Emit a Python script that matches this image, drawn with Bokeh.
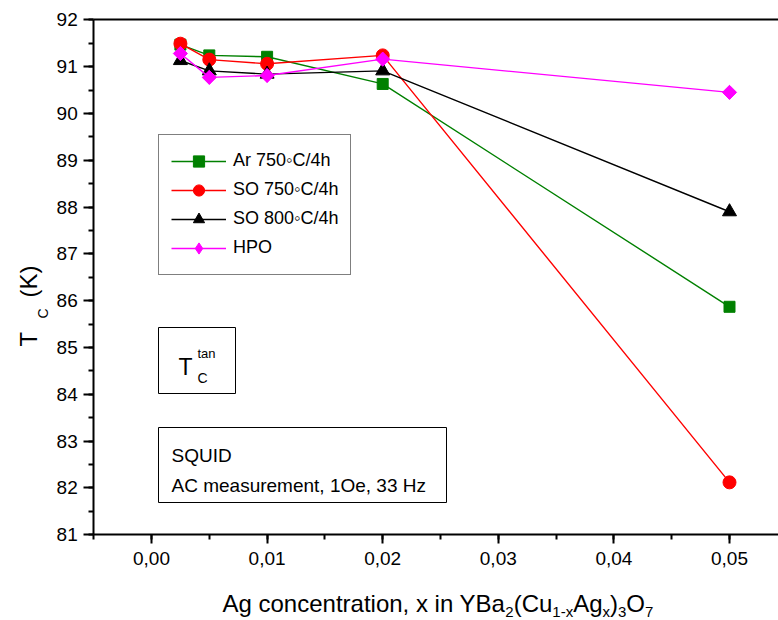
import math
import numpy as np
from bokeh.plotting import figure
from bokeh.models import (Range1d, FixedTicker, Legend, LegendItem, Label,
                          BoxAnnotation, LinearAxis)
from bokeh.embed import file_html
from bokeh.resources import INLINE

# ---------------- data ----------------
x_conc = [0.0025, 0.005, 0.01, 0.02, 0.05]
tc_ar750 = [91.47, 91.24, 91.21, 90.63, 85.87]
tc_so750 = [91.49, 91.15, 91.06, 91.24, 82.12]
tc_so800 = [91.13, 90.91, 90.84, 90.91, 87.90]
tc_hpo = [91.28, 90.77, 90.81, 91.16, 90.45]

series_names = ["Ar 750\u25e6C/4h", "SO 750\u25e6C/4h", "SO 800\u25e6C/4h", "HPO"]
series_values = [tc_ar750, tc_so750, tc_so800, tc_hpo]

x_ticks = [0.0, 0.01, 0.02, 0.03, 0.04, 0.05]
x_tick_labels = ["0,00", "0,01", "0,02", "0,03", "0,04", "0,05"]
y_ticks = [81, 82, 83, 84, 85, 86, 87, 88, 89, 90, 91, 92]
y_tick_labels = ["81", "82", "83", "84", "85", "86", "87", "88", "89", "90", "91", "92"]

# ---------------- layout ----------------
W, H = 778, 620
FONT = "Liberation Sans"

# plot box in canvas pixels: x=-0.005 at px 93.3, x=0 at px 151, 0.01 -> 115.6 px
X0_PX, X_PX_PER_UNIT = 151.0, 11560.0
Y92_PX, Y81_PX = 19.3, 534.3
Y_PX_PER_UNIT = (Y81_PX - Y92_PX) / 11.0
X_START = -X0_PX / X_PX_PER_UNIT
X_END = (W - X0_PX) / X_PX_PER_UNIT
Y_END = 92 + Y92_PX / Y_PX_PER_UNIT
Y_START = 92 - (H - Y92_PX) / Y_PX_PER_UNIT
X_AX_LO = -0.005

p = figure(width=W, height=H, output_backend="svg", toolbar_location=None,
           x_range=Range1d(X_START, X_END), y_range=Range1d(Y_START, Y_END),
           min_border_left=0, min_border_right=0, min_border_top=0,
           min_border_bottom=0, background_fill_color="white",
           border_fill_color="white")
p.outline_line_color = None
p.xgrid.visible = False
p.ygrid.visible = False

p.xaxis.fixed_location = 81
p.yaxis.fixed_location = X_AX_LO
p.xaxis.bounds = (X_AX_LO, X_END)
p.yaxis.bounds = (81, 92)

p.xaxis.ticker = FixedTicker(ticks=x_ticks,
                             minor_ticks=list(np.arange(-0.005, 0.0545, 0.005)))
p.yaxis.ticker = FixedTicker(ticks=y_ticks,
                             minor_ticks=list(np.arange(81, 92.01, 0.5)))
p.xaxis.major_label_overrides = {t: l for t, l in zip(x_ticks, x_tick_labels)}
p.yaxis.major_label_overrides = {t: l for t, l in zip(y_ticks, y_tick_labels)}

for ax in (p.xaxis[0], p.yaxis[0]):
    ax.axis_line_width = 2
    ax.axis_line_color = "black"
    ax.major_tick_line_width = 2
    ax.minor_tick_line_width = 2
    ax.major_tick_line_color = "black"
    ax.minor_tick_line_color = "black"
    ax.major_tick_in = 0
    ax.minor_tick_in = 0
    ax.minor_tick_out = 5
    ax.major_label_text_font = FONT
    ax.major_label_text_font_size = "19px"
    ax.major_label_text_color = "black"
p.xaxis.major_tick_out = 9
p.yaxis.major_tick_out = 10
p.xaxis.major_label_standoff = 8
p.yaxis.major_label_standoff = 6

top = LinearAxis(fixed_location=92, bounds=(X_AX_LO, X_END),
                 ticker=FixedTicker(ticks=[], minor_ticks=[]),
                 axis_line_width=2, axis_line_color="black",
                 major_tick_line_color=None, minor_tick_line_color=None,
                 major_label_text_font_size="0px")
p.add_layout(top, "above")

# ---------------- series ----------------
colors = ["#008000", "#ff0000", "#000000", "#ff00ff"]
markers = ["square", "circle", "triangle", "square"]
sizes = [11, 13, 14, 10]
angles = [0, 0, 0, math.pi / 4]

items = []
for name, vals, c, m, s, a in zip(series_names, series_values, colors, markers, sizes, angles):
    lr = p.line(x_conc, vals, line_color=c, line_width=1.4)
    if a:
        # diamond hidden below the rotated square; it supplies the legend symbol
        lg = p.scatter(x_conc, vals, marker="diamond", size=13.5, fill_color=c, line_color=c)
    sr = p.scatter(x_conc, vals, marker=m, size=s, angle=a, fill_color=c, line_color=c)
    items.append(LegendItem(label=name, renderers=[lr, lg if a else sr]))

def fx(X):
    return X

def fy(Y):
    return H - Y

legend = Legend(items=items, location=(fx(158), fy(274.5)), orientation="vertical",
                border_line_color="black", border_line_width=1, background_fill_alpha=1,
                padding=12, spacing=1, glyph_width=55, glyph_height=28, label_height=28,
                label_standoff=7, margin=0, label_text_font=FONT,
                label_text_font_size="18px", label_text_color="black")
p.add_layout(legend)

# ---------------- annotation boxes ----------------
def box(l, t, r, b):
    p.add_layout(BoxAnnotation(left=fx(l), right=fx(r), top=fy(t), bottom=fy(b),
                               left_units="screen", right_units="screen",
                               top_units="screen", bottom_units="screen",
                               fill_color="white", fill_alpha=0,
                               line_color="black", line_width=1, line_alpha=1))

box(158, 327, 235, 393)
box(158, 427, 446, 502)

def text(X, Y, s, size, angle=0.0):
    p.add_layout(Label(x=fx(X), y=fy(Y), x_units="screen", y_units="screen", text=s,
                       text_font=FONT, text_font_size=f"{size}px", text_color="black",
                       text_baseline="alphabetic", text_align="left", angle=angle))

text(178, 366, "T", 23)
text(197, 353, "tan", 13)
text(197, 377, "C", 14)
text(171, 455, "SQUID", 19)
text(171, 485, "AC measurement, 1Oe, 33 Hz", 19)

# ---------------- axis titles (with sub-scripts) ----------------
ARIAL_W = {' ': 278, '(': 333, ')': 333, ',': 278, '-': 333, '.': 278, '/': 278,
           'A': 667, 'B': 667, 'C': 722, 'K': 667, 'O': 778, 'T': 611, 'Y': 667,
           'a': 556, 'c': 500, 'e': 556, 'g': 556, 'i': 222, 'n': 556, 'o': 556,
           'r': 333, 't': 278, 'u': 556, 'x': 500}

def tw(s, size):
    return sum(ARIAL_W.get(ch, 556) for ch in s) * size / 1000.0

title_runs = [("Ag concentration, x in YBa", 0), ("2", 1), ("(Cu", 0), ("1-x", 1),
              ("Ag", 0), ("x", 1), (")", 0), ("3", 1), ("O", 0), ("7", 1)]
MAIN, SUB, SUB_DY = 24, 15, 8
BASE_Y = 603
X = 222.0
for s, is_sub in title_runs:
    size = SUB if is_sub else MAIN
    text(X, BASE_Y + (SUB_DY if is_sub else 0), s, size)
    X += tw(s, size)

# y title, rotated
text(28, 346, "T", 24, math.pi / 2)
text(42, 318, "C", 14, math.pi / 2)
text(28, 297, "(K)", 24, math.pi / 2)

open("out.html", "w").write(file_html(p, INLINE))
